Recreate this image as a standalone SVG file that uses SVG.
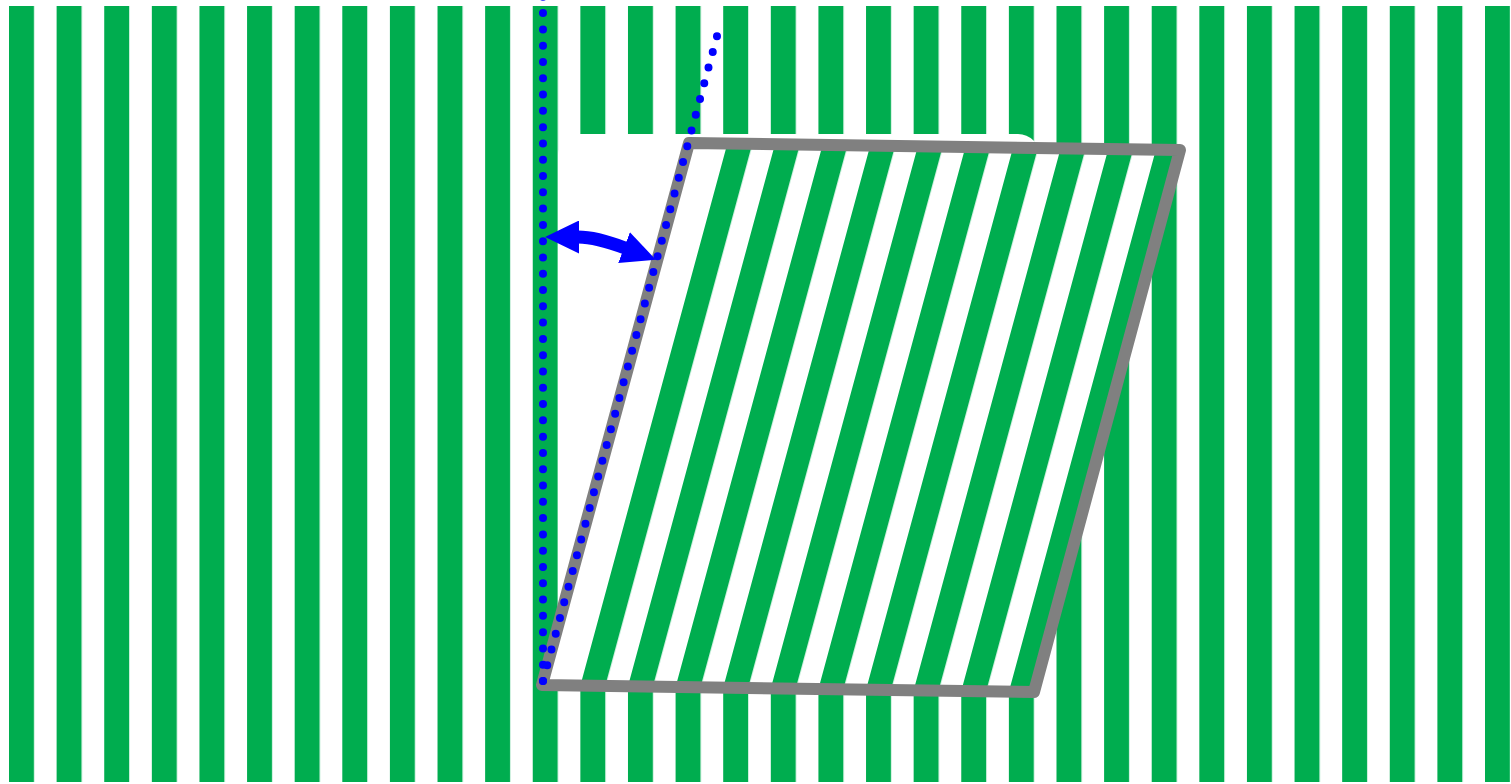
<svg xmlns="http://www.w3.org/2000/svg" width="1511" height="784" viewBox="0 0 1511 784">
  <style>
    .dots { fill: none; stroke: #0000FF; stroke-width: 8; stroke-linecap: round; stroke-dasharray: 0 16.29; }
    .frame { fill: none; stroke: #808080; stroke-width: 12; stroke-linejoin: round; }
    .shaft { fill: none; stroke: #0000FF; stroke-width: 13; }
  </style>
  <defs>
    <pattern id="stripes" x="9" y="0" width="47.613" height="784" patternUnits="userSpaceOnUse">
      <rect x="0" y="0" width="25" height="784" fill="#00AD4F"/>
    </pattern>
    <marker id="head" viewBox="0 0 34 33" refX="1" refY="16.5" markerWidth="34" markerHeight="33" markerUnits="userSpaceOnUse" orient="auto-start-reverse">
      <path d="M0,0 L34,16.5 L0,33 Z" fill="#0000FF"/>
    </marker>
  </defs>
  <rect width="1511" height="784" fill="#FFFFFF"/>
  <g id="background-stripes">
    <rect x="9" y="6" width="1501" height="776" fill="url(#stripes)"/>
  </g>
  <g id="original-rectangle">
    <rect x="558" y="134" width="482" height="554" rx="22" fill="#FFFFFF"/>
  </g>
  <g id="sheared-rectangle">
    <polygon points="542,685 689,143 1180,150 1034,692" fill="#FFFFFF"/>
    <g transform="matrix(1,0.014228,-0.27122,1,185.79,-7.7114)">
      <rect x="570" y="143" width="464" height="542" fill="url(#stripes)"/>
    </g>
    <polygon class="frame" points="542,685 689,143 1180,150 1034,692"/>
  </g>
  <g id="connectors">
    <path class="dots" d="M543,681 V-20"/>
    <path class="dots" d="M543,681 L717.3,35"/>
    <path class="shaft" d="M578,237 Q596,237 625,248" marker-start="url(#head)" marker-end="url(#head)"/>
  </g>
</svg>
